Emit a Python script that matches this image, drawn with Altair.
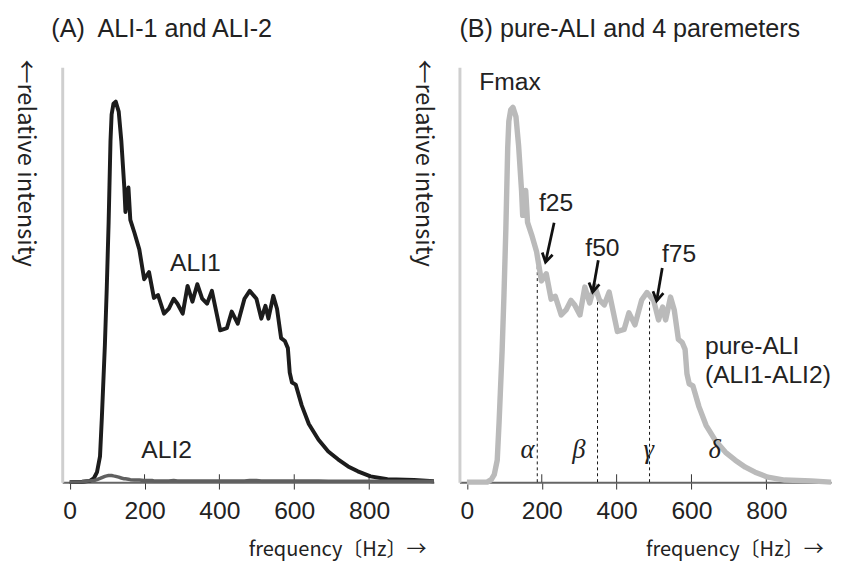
import altair as alt
import pandas as pd

FONT = "Liberation Sans, Arial, Noto Sans CJK JP, sans-serif"
TFONT = "Noto Sans CJK JP, Liberation Sans, sans-serif"
SERIF = "Liberation Serif, Times New Roman, serif"

# ---------------- data ----------------
freq = [0, 33, 54, 65, 73, 81, 86, 94, 99, 104,
        109, 112, 117, 123, 131, 138, 146, 149, 157, 162,
        173, 186, 199, 212, 220, 225, 236, 252, 265, 278,
        288, 302, 315, 328, 341, 354, 367, 380, 402, 420,
        433, 449, 467, 481, 499, 512, 523, 531, 544, 554,
        565, 575, 583, 588, 594, 604, 620, 639, 665, 691,
        717, 744, 770, 804, 849, 920, 973]

ali1 = [0.0, 0.1, 0.3, 1.0, 2.4, 6.2, 15.7, 33.0, 46.6, 62.5,
        82.2, 88.6, 91.2, 91.7, 89.3, 82.2, 71.0, 65.1, 71.0, 63.2,
        60.1, 56.1, 48.9, 50.6, 46.8, 44.4, 45.1, 40.6, 41.8, 44.2,
        43.0, 40.6, 47.3, 43.5, 47.7, 44.2, 43.0, 46.1, 36.6, 37.1,
        41.1, 38.2, 44.2, 46.1, 44.2, 39.4, 42.5, 39.4, 44.9, 41.8,
        34.7, 34.0, 32.3, 26.4, 24.0, 23.5, 18.5, 14.0, 10.2, 7.4,
        5.5, 3.8, 2.6, 1.4, 0.7, 0.5, 0.2]

ali2 = [0.0, 0.1, 0.3, 0.4, 0.6, 0.9, 1.1, 1.4, 1.5, 1.6,
        1.6, 1.6, 1.5, 1.4, 1.2, 1.0, 0.8, 0.8, 0.7, 0.6,
        0.5, 0.5, 0.4, 0.4, 0.4, 0.3, 0.3, 0.3, 0.3, 0.4,
        0.3, 0.3, 0.3, 0.3, 0.3, 0.3, 0.3, 0.3, 0.3, 0.3,
        0.3, 0.3, 0.3, 0.4, 0.4, 0.3, 0.3, 0.3, 0.3, 0.3,
        0.3, 0.3, 0.3, 0.3, 0.3, 0.3, 0.3, 0.3, 0.3, 0.2,
        0.2, 0.2, 0.2, 0.2, 0.2, 0.2, 0.2]

# pure-ALI = ALI1 - ALI2 (as stated in the chart)
pure = [round(max(a - b, 0.0), 2) for a, b in zip(ali1, ali2)]

tick_values = [0, 200, 400, 600, 800]

# panel A labels
a_labels = ["ALI1", "ALI2"]
a_label_freq = [336, 259]
a_label_val = [52.7, 7.8]

# panel B: f25 / f50 / f75 markers
mk_names = ["f25", "f50", "f75"]
mk_freq = [188, 349, 488]
mk_top = [53.0, 45.4, 44.2]
mk_label_freq = [238, 362, 567]
mk_label_val = [67.2, 56.5, 54.9]
arrow_from_freq = [233, 351, 522]
arrow_from_val = [62.5, 53.5, 51.6]
arrow_to_freq = [210, 336, 507]
arrow_to_val = [53.0, 45.8, 43.7]
arrow_angle = [12.5, 10.0, 10.0]

greek = ["α", "β", "γ", "δ"]
greek_freq = [162, 299, 486, 662]
greek_val = [7.6, 7.6, 7.6, 7.6]

b_text = ["Fmax", "pure-ALI", "(ALI1-ALI2)"]
b_text_freq = [33, 636, 636]
b_text_val = [96.4, 32.8, 25.9]

title_a = "(A)\u00a0 ALI-1 and ALI-2"
title_b = "(B) pure-ALI and 4 paremeters"
x_title = "frequency〔Hz〕→"
y_title = "←relative intensity"

# ---------------- encodings ----------------
W, H = 377, 421
xscale = alt.Scale(domain=[-20, 973], nice=False, zero=False)
yscale = alt.Scale(domain=[0, 100], nice=False, zero=False)

xaxis = alt.Axis(values=tick_values, format="d", tickSize=7, tickColor="#333",
                 tickWidth=1, domainColor="#666", domainWidth=2,
                 labelFont=FONT, labelFontSize=25, labelColor="#222",
                 labelPadding=10, labelFlush=False, labelOverlap=False,
                 title=x_title, titleFont=TFONT, titleFontSize=20.3,
                 titleFontWeight="normal", titleColor="#222",
                 titleAlign="right", titleBaseline="middle",
                 titleX=369, titleY=68, grid=False)
yaxis = alt.Axis(labels=False, ticks=False, domainColor="#cfcfcf", domainWidth=3,
                 title=y_title, titleFont=TFONT, titleFontSize=24,
                 titleFontWeight="normal", titleColor="#222", titleAngle=90,
                 titleAlign="left", titleBaseline="middle",
                 titleX=-38, titleY=-8, grid=False)


def X(f="freq"):
    return alt.X(f"{f}:Q", scale=xscale, axis=xaxis, title=x_title)


def Y(f="val"):
    return alt.Y(f"{f}:Q", scale=yscale, axis=yaxis, title=y_title)


df_ticks = pd.DataFrame({"freq": tick_values[1:], "v0": [0.0] * 4, "v1": [1.9] * 4})
tick_up = alt.Chart(df_ticks).mark_rule(color="#333", strokeWidth=1).encode(
    x=X(), y=Y("v0"), y2="v1")

# ---------------- panel A ----------------
dfA1 = pd.DataFrame({"freq": freq, "val": ali1})
dfA2 = pd.DataFrame({"freq": freq, "val": ali2})
dfAL = pd.DataFrame({"freq": a_label_freq, "val": a_label_val, "label": a_labels})

lineA2 = alt.Chart(dfA2).mark_line(color="#606060", strokeWidth=3.5, strokeJoin="round").encode(
    x=X(), y=Y())
lineA1 = alt.Chart(dfA1).mark_line(color="#1c1c1c", strokeWidth=4, strokeJoin="round").encode(
    x=X(), y=Y())
textA = alt.Chart(dfAL).mark_text(font=FONT, fontSize=25, color="#222",
                                  align="center", baseline="middle").encode(
    x=X(), y=Y(), text="label:N")

panelA = alt.layer(tick_up, lineA1, lineA2, textA).properties(
    width=W, height=H,
    title=alt.TitleParams(title_a, anchor="start", frame="group",
                          dx=-11, font=FONT, fontSize=25.5, fontWeight="normal",
                          color="#222", offset=17))

# ---------------- panel B ----------------
dfB = pd.DataFrame({"freq": freq, "val": pure})
dfMk = pd.DataFrame({"freq": mk_freq, "v0": [0.0] * 3, "top": mk_top})
dfMkL = pd.DataFrame({"freq": mk_label_freq, "val": mk_label_val, "label": mk_names})
dfArr = pd.DataFrame({"freq": arrow_from_freq, "val": arrow_from_val,
                      "freq2": arrow_to_freq, "val2": arrow_to_val})
dfHead = pd.DataFrame({"freq": arrow_to_freq, "val": arrow_to_val, "ang": arrow_angle})
dfG = pd.DataFrame({"freq": greek_freq, "val": greek_val, "label": greek})
dfBT = pd.DataFrame({"freq": b_text_freq, "val": b_text_val, "label": b_text})

lineB = alt.Chart(dfB).mark_line(color="#bababa", strokeWidth=5.5, strokeJoin="round").encode(
    x=X(), y=Y())
dashes = alt.Chart(dfMk).mark_rule(color="#111", strokeWidth=1, strokeDash=[3, 3]).encode(
    x=X(), y=Y("v0"), y2="top")
shafts = alt.Chart(dfArr).mark_rule(color="#111", strokeWidth=2.8).encode(
    x=X(), y=Y(), x2="freq2", y2="val2")
heads = alt.Chart(dfHead).mark_point(shape="M-0.6,-1L0,0L0.6,-1", filled=False,
                                     color="#111", strokeWidth=2.8, size=320,
                                     opacity=1).encode(
    x=X(), y=Y(), angle=alt.Angle("ang:Q", scale=None))
mkText = alt.Chart(dfMkL).mark_text(font=FONT, fontSize=25, color="#222",
                                    align="center", baseline="middle").encode(
    x=X(), y=Y(), text="label:N")
gText = alt.Chart(dfG).mark_text(font=SERIF, fontSize=27, fontStyle="italic", color="#222",
                                 align="center", baseline="middle").encode(
    x=X(), y=Y(), text="label:N")
bText = alt.Chart(dfBT).mark_text(font=FONT, fontSize=25, color="#222",
                                  align="left", baseline="middle").encode(
    x=X(), y=Y(), text="label:N")

panelB = alt.layer(tick_up, dashes, lineB, shafts, heads, mkText, gText, bText).properties(
    width=W, height=H,
    title=alt.TitleParams(title_b, anchor="start", frame="group",
                          dx=0, font=FONT, fontSize=25.5, fontWeight="normal",
                          color="#222", offset=17))

chart = alt.hconcat(panelA, panelB, spacing=26, bounds="flush").configure_view(
    stroke=None).properties(padding={"left": 5, "top": 5, "right": 0, "bottom": 0})

chart.save("out.html", embed_options={"renderer": "svg", "actions": False})
